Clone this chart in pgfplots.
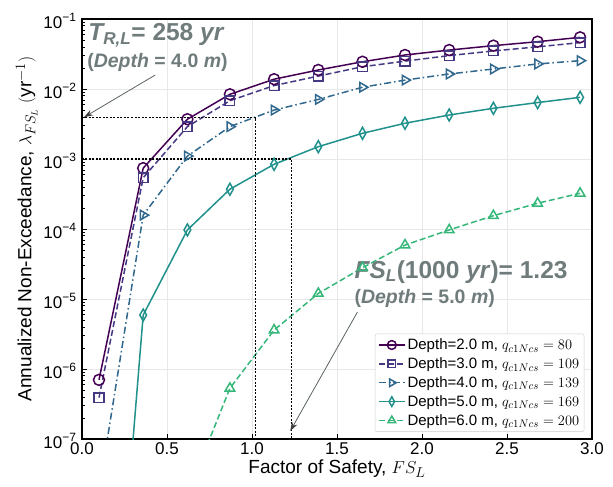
\documentclass[border=0pt]{standalone}
\usepackage{fontspec}
\setmainfont{Liberation Sans}
\usepackage{pgfplots}
\pgfplotsset{compat=1.18}
\usetikzlibrary{arrows.meta}

\definecolor{dA}{HTML}{440154}
\definecolor{dB}{HTML}{443983}
\definecolor{dC}{HTML}{31688E}
\definecolor{dD}{HTML}{21918C}
\definecolor{dE}{HTML}{35B779}
\definecolor{annot}{RGB}{112,123,124}

\begin{document}
\begin{tikzpicture}
\path[use as bounding box] (-82pt,-48pt) rectangle (531pt,439pt);
\begin{axis}[
  at={(0,0)}, anchor=south west,
  scale only axis, width=510pt, height=420pt,
  ymode=log, log basis y=10,
  xmin=0, xmax=3, ymin=1e-7, ymax=1e-1,
  xtick={0,0.5,...,3},
  xticklabel style={/pgf/number format/.cd, fixed, fixed zerofill, precision=1, assume math mode=true},
  yticklabel={10\textsuperscript{\fontsize{12}{12}\selectfont −\pgfmathparse{int(round(-\tick))}\pgfmathresult}},
  tick label style={font=\fontsize{17}{19}\selectfont},
  yticklabel style={yshift=-2pt, xshift=-2pt},
  label style={font=\fontsize{19}{21}\selectfont},
  xlabel={Factor of Safety, $FS_L$},
  xlabel style={yshift=2pt},
  ylabel={Annualized Non-Exceedance, $\lambda_{FS_L}$ $(\mathrm{yr}^{-1})$},
  ylabel style={yshift=-1pt},
  grid=major, grid style={gray!18, line width=0.6pt},
  tick pos=left, tick align=inside,
  axis line style={line width=1.1pt},
  major tick length=5pt, minor tick length=3pt,
  every tick/.style={black, line width=0.6pt},
  legend cell align=left,
  legend style={at={(0.985,0.017)}, anchor=south east, draw=gray!40, rounded corners=2pt,
    font=\fontsize{15}{17}\selectfont, row sep=2.5pt, inner sep=3pt},
  legend image code/.code={\draw[mark repeat=2, mark phase=2, every mark/.append style={scale=0.8}] plot coordinates {(0pt,0pt)(13pt,0pt)(26pt,0pt)};},
  every axis plot/.append style={line width=1.5pt},
]
% Depth 2.0 m
\addplot[dA, solid, mark=o, mark size=5.5pt, mark options={solid, fill=white}] coordinates {
(0.10,7.0e-7)(0.36,7.4e-4)(0.62,3.7e-3)(0.87,8.4e-3)(1.13,1.38e-2)(1.39,1.87e-2)
(1.65,2.45e-2)(1.90,3.06e-2)(2.16,3.6e-2)(2.42,4.16e-2)(2.68,4.74e-2)(2.93,5.47e-2)};
\addlegendentry{Depth=2.0 m, $q_{c1Ncs}=80$}
% Depth 3.0 m
\addplot[dB, dash pattern=on 6pt off 3pt, mark=square, mark size=4.8pt, mark options={solid, fill=white}] coordinates {
(0.10,3.9e-7)(0.36,5.4e-4)(0.62,2.9e-3)(0.87,6.8e-3)(1.13,1.12e-2)(1.39,1.53e-2)
(1.65,2.08e-2)(1.90,2.5e-2)(2.16,3.0e-2)(2.42,3.5e-2)(2.68,4.0e-2)(2.93,4.6e-2)};
\addlegendentry{Depth=3.0 m, $q_{c1Ncs}=109$}
% Depth 4.0 m
\addplot[dC, dash pattern=on 7pt off 3pt on 1.5pt off 3pt, mark=triangle, mark size=5.5pt, mark options={solid, fill=white, rotate=-90}] coordinates {
(0.10,1.8e-8)(0.36,1.58e-4)(0.62,1.1e-3)(0.87,2.9e-3)(1.13,5.0e-3)(1.39,7.1e-3)
(1.65,1.06e-2)(1.90,1.34e-2)(2.16,1.64e-2)(2.42,1.93e-2)(2.68,2.28e-2)(2.93,2.54e-2)};
\addlegendentry{Depth=4.0 m, $q_{c1Ncs}=139$}
% Depth 5.0 m
\addplot[dD, solid, mark=diamond, mark size=6pt, mark options={solid, fill=white, xscale=0.75}] coordinates {
(0.10,1.1e-13)(0.36,5.9e-6)(0.62,9.7e-5)(0.87,3.7e-4)(1.13,8.4e-4)(1.39,1.5e-3)
(1.65,2.33e-3)(1.90,3.24e-3)(2.16,4.25e-3)(2.42,5.3e-3)(2.68,6.4e-3)(2.93,7.6e-3)};
\addlegendentry{Depth=5.0 m, $q_{c1Ncs}=169$}
% Depth 6.0 m
\addplot[dE, dash pattern=on 6pt off 3pt, mark=triangle, mark size=5.5pt, mark options={solid, fill=white}] coordinates {
(0.62,1.6e-8)(0.87,5.3e-7)(1.13,3.6e-6)(1.39,1.2e-5)
(1.65,2.8e-5)(1.90,5.9e-5)(2.16,9.7e-5)(2.42,1.55e-4)(2.68,2.33e-4)(2.93,3.24e-4)};
\addlegendentry{Depth=6.0 m, $q_{c1Ncs}=200$}
% reference lines
\addplot[black, line width=1.2pt, dash pattern=on 2pt off 1.5pt, forget plot] coordinates {(0,3.876e-3)(1.02,3.876e-3)(1.02,1e-7)};
\addplot[black, line width=1.2pt, dash pattern=on 2pt off 1.5pt, forget plot] coordinates {(0,1e-3)(1.23,1e-3)(1.23,1e-7)};
% annotations
\draw[annot!80!black, line width=0.8pt, -{Stealth[length=9pt,width=6pt,black!75]}] (axis cs:0.43,1.58e-2) -- (axis cs:0.012,3.95e-3);
\draw[annot!80!black, line width=0.8pt, -{Stealth[length=9pt,width=6pt,black!75]}] (axis cs:1.62,6.5e-6) -- (axis cs:1.225,1.3e-7);
\node[anchor=west, text=annot, font=\fontsize{24.5}{26}\selectfont\bfseries, inner sep=0pt] at (rel axis cs:0.012,0.962)
  {\textit{T\textsubscript{R,L}}= 258 \textit{yr}};
\node[anchor=west, text=annot, font=\fontsize{19.5}{21}\selectfont\bfseries, inner sep=0pt] at (rel axis cs:0.010,0.897)
  {(\textit{Depth} = 4.0 \textit{m})};
\node[anchor=west, text=annot, font=\fontsize{24.5}{26}\selectfont\bfseries, inner sep=0pt] at (rel axis cs:0.534,0.398)
  {\textit{FS\textsubscript{L}}(1000 \textit{yr})= 1.23};
\node[anchor=west, text=annot, font=\fontsize{19.5}{21}\selectfont\bfseries, inner sep=0pt] at (rel axis cs:0.534,0.335)
  {(\textit{Depth} = 5.0 \textit{m})};
\end{axis}
\end{tikzpicture}
\end{document}
